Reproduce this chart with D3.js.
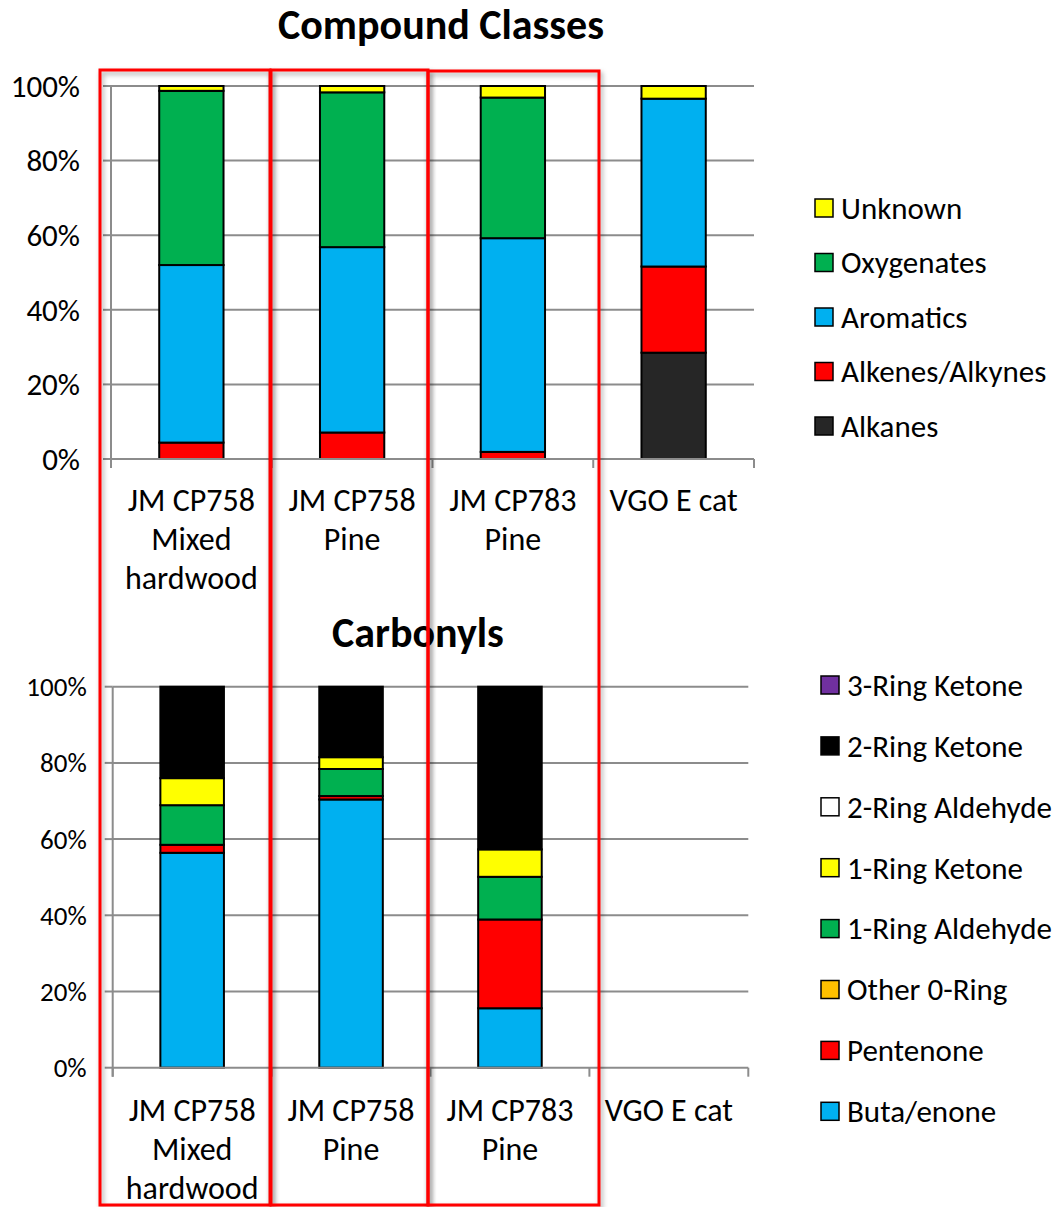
<!DOCTYPE html>
<html>
<head>
<meta charset="utf-8">
<script src="https://cdn.jsdelivr.net/npm/d3@7"></script>
<style>
  html, body { margin: 0; padding: 0; background: #fff; }
  svg { display: block; }
  text { font-family: Carlito, Calibri, Lato, sans-serif; fill: #000; }
</style>
</head>
<body>
<svg id="chart" width="1061" height="1207"></svg>
<script>
// ---- data ----
const categories = ["JM CP758|Mixed|hardwood", "JM CP758|Pine", "JM CP783|Pine", "VGO E cat"];
const yTicks = [0, 0.2, 0.4, 0.6, 0.8, 1.0];
const yTickLabels = ["0%", "20%", "40%", "60%", "80%", "100%"];

// Compound classes (% of total), stacked bottom to top
const classSeries = ["Alkanes", "Alkenes/Alkynes", "Aromatics", "Oxygenates", "Unknown"];
const alkanes      = [0, 0, 0, 28.5];
const alkenes      = [4.4, 7.1, 1.9, 23.1];
const aromatics    = [47.6, 49.7, 57.3, 45.0];
const oxygenates   = [46.7, 41.5, 37.7, 0];
const unknown      = [1.3, 1.7, 3.1, 3.4];
const classColors  = ["#262626", "#FF0000", "#00B0F0", "#00B050", "#FFFF00"];

// Carbonyls (% of carbonyls), stacked bottom to top
const carbSeries = ["Buta/enone", "Pentenone", "Other 0-Ring", "1-Ring Aldehyde",
                    "1-Ring Ketone", "2-Ring Aldehyde", "2-Ring Ketone", "3-Ring Ketone"];
const butaenone     = [56.4, 70.4, 15.6, 0];
const pentenone     = [2.1, 0.9, 23.3, 0];
const other0Ring    = [0, 0, 0, 0];
const ring1Aldehyde = [10.4, 7.1, 11.2, 0];
const ring1Ketone   = [7.1, 3.1, 7.2, 0];
const ring2Aldehyde = [0, 0, 0, 0];
const ring2Ketone   = [24.0, 18.5, 42.7, 0];
const ring3Ketone   = [0, 0, 0, 0];
const carbColors    = ["#00B0F0", "#FF0000", "#FFC000", "#00B050",
                       "#FFFF00", "#FFFFFF", "#000000", "#7030A0"];

// ---- helpers ----
function buildRows(seriesNames, valueArrays) {
  return categories.map((c, i) => {
    const row = { cat: c };
    seriesNames.forEach((s, k) => { row[s] = valueArrays[k][i] / 100; });
    return row;
  });
}

const svg = d3.select("#chart");

function drawChart(cfg) {
  const g = svg.append("g");
  const x = d3.scaleBand().domain(categories).range([cfg.x0, cfg.x1])
    .paddingInner(0.6).paddingOuter(0.3);
  const y = d3.scaleLinear().domain([0, 1]).range([cfg.y0, cfg.y1]);
  const step = x.step();

  // gridlines
  g.append("g").selectAll("line").data(yTicks.slice(1)).join("line")
    .attr("x1", cfg.x0).attr("x2", cfg.x1)
    .attr("y1", d => y(d)).attr("y2", d => y(d))
    .attr("stroke", "#8c8c8c").attr("stroke-width", 2);

  // stacked bars
  const rows = buildRows(cfg.series, cfg.values);
  const stack = d3.stack().keys(cfg.series)(rows);
  const color = d3.scaleOrdinal().domain(cfg.series).range(cfg.colors);
  g.append("g").selectAll("g").data(stack).join("g")
    .attr("fill", d => color(d.key))
    .selectAll("rect").data(d => d.filter(p => p[1] - p[0] > 0)).join("rect")
    .attr("x", d => x(d.data.cat))
    .attr("width", x.bandwidth())
    .attr("y", d => y(d[1]))
    .attr("height", d => y(d[0]) - y(d[1]))
    .attr("stroke", "#000").attr("stroke-width", 2);

  // value axis: line + outside ticks
  const ax = g.append("g").attr("stroke", "#8c8c8c").attr("stroke-width", 2);
  ax.append("line").attr("x1", cfg.x0).attr("x2", cfg.x0)
    .attr("y1", y(1)).attr("y2", y(0) + 9);
  ax.selectAll("line.yt").data(yTicks).join("line").attr("class", "yt")
    .attr("x1", cfg.x0 - 8).attr("x2", cfg.x0)
    .attr("y1", d => y(d)).attr("y2", d => y(d));
  // category axis: baseline + boundary ticks
  ax.append("line").attr("x1", cfg.x0).attr("x2", cfg.x1)
    .attr("y1", y(0)).attr("y2", y(0));
  const bounds = d3.range(categories.length + 1).map(i => cfg.x0 + i * step);
  ax.selectAll("line.xt").data(bounds).join("line").attr("class", "xt")
    .attr("x1", d => d).attr("x2", d => d)
    .attr("y1", y(0)).attr("y2", y(0) + 9);

  // y tick labels
  g.append("g").selectAll("text").data(yTicks).join("text")
    .attr("x", cfg.x0 - cfg.yLabelGap)
    .attr("y", d => y(d))
    .attr("dy", "0.35em")
    .attr("text-anchor", "end")
    .style("font-size", cfg.yFont + "px")
    .text((d, i) => yTickLabels[i]);

  // category labels (multi-line)
  const cl = g.append("g").selectAll("text").data(categories).join("text")
    .attr("text-anchor", "middle")
    .style("font-size", cfg.catFont + "px");
  cl.each(function (c) {
    const t = d3.select(this);
    c.split("|").forEach((line, i) => {
      t.append("tspan")
        .attr("x", x(c) + x.bandwidth() / 2)
        .attr("y", cfg.catY + i * cfg.catLine)
        .text(line);
    });
  });

  // title
  g.append("text").attr("x", cfg.titleX).attr("y", cfg.titleY)
    .attr("text-anchor", "middle")
    .style("font-size", cfg.titleFont + "px").style("font-weight", "bold")
    .text(cfg.title);

  // legend (top entry = last series)
  const legendItems = cfg.series.map((s, i) => ({ s, c: cfg.colors[i] })).reverse();
  const lg = g.append("g").selectAll("g").data(legendItems).join("g")
    .attr("transform", (d, i) => `translate(${cfg.legX},${cfg.legY + i * cfg.legStep})`);
  lg.append("rect").attr("x", 0).attr("y", -9).attr("width", 18).attr("height", 18)
    .attr("fill", d => d.c).attr("stroke", "#000").attr("stroke-width", 1.5);
  lg.append("text").attr("x", 26).attr("y", 0).attr("dy", "0.35em")
    .style("font-size", cfg.legFont + "px").text(d => d.s);
}

drawChart({
  title: "Compound Classes", titleX: 441, titleY: 39, titleFont: 42,
  series: classSeries, values: [alkanes, alkenes, aromatics, oxygenates, unknown],
  colors: classColors,
  x0: 111, x1: 754, y0: 459, y1: 86,
  yFont: 31, yLabelGap: 31,
  catFont: 32, catY: 511, catLine: 39,
  legX: 815, legY: 208, legStep: 54.5, legFont: 31
});

drawChart({
  title: "Carbonyls", titleX: 418, titleY: 647, titleFont: 42,
  series: carbSeries,
  values: [butaenone, pentenone, other0Ring, ring1Aldehyde, ring1Ketone,
           ring2Aldehyde, ring2Ketone, ring3Ketone],
  colors: carbColors,
  x0: 112.7, x1: 748.3, y0: 1067.7, y1: 686.7,
  yFont: 27, yLabelGap: 26,
  catFont: 32, catY: 1121, catLine: 39,
  legX: 821, legY: 685, legStep: 60.9, legFont: 31
});

// ---- highlight boxes drawn over both charts ----
const defs = svg.append("defs");
const f = defs.append("filter").attr("id", "shadow")
  .attr("x", "-5%").attr("y", "-5%").attr("width", "110%").attr("height", "110%");
f.append("feDropShadow").attr("dx", 2).attr("dy", 3).attr("stdDeviation", 2.5)
  .attr("flood-color", "#000").attr("flood-opacity", 0.35);

const highlightBoxes = [
  { left: 100, right: 270, top: 70, bottom: 1205 },
  { left: 271, right: 428, top: 70, bottom: 1205 },
  { left: 428, right: 599, top: 71, bottom: 1205 }
];
svg.append("g").selectAll("rect").data(highlightBoxes).join("rect")
  .attr("x", d => d.left).attr("y", d => d.top)
  .attr("width", d => d.right - d.left).attr("height", d => d.bottom - d.top)
  .attr("fill", "none").attr("stroke", "#FF0000").attr("stroke-width", 3)
  .attr("filter", "url(#shadow)");
</script>
</body>
</html>
